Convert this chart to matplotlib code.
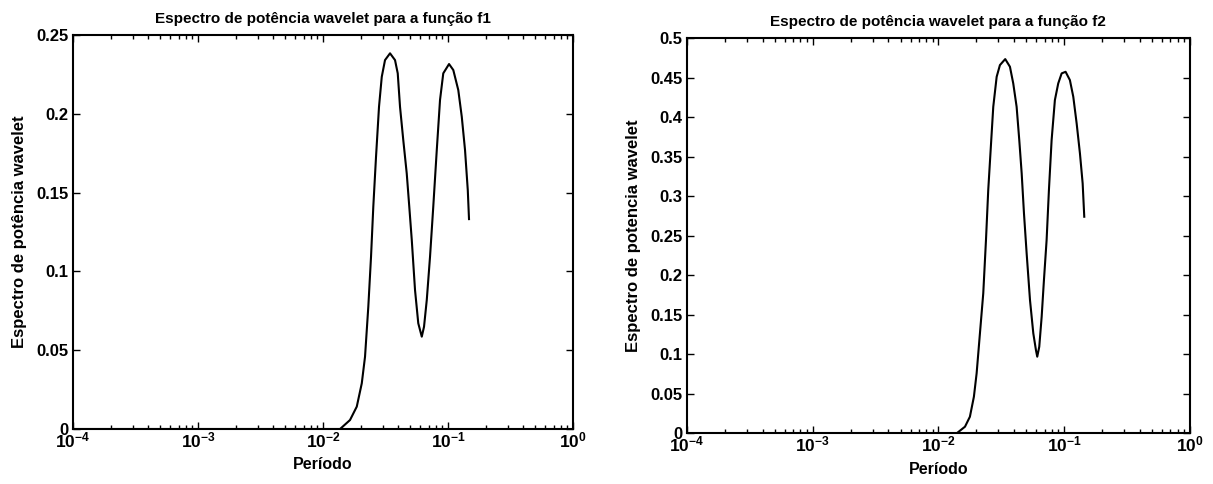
"""
Espectro de potência wavelet das funções f1 e f2 (eixo de período em escala log).
"""

import math
import matplotlib
matplotlib.use("Agg")
import matplotlib.pyplot as plt
from matplotlib.ticker import FixedLocator, FuncFormatter, LogLocator, NullFormatter

# espectro de f1
period_f1 = [1e-4, 0.01368, 0.01644, 0.01862, 0.02042, 0.02168, 0.02303, 0.02421,
             0.02525, 0.02655, 0.02805, 0.02951, 0.03133, 0.03436, 0.03767, 0.03960,
             0.04130, 0.04385, 0.04674, 0.04898, 0.05129, 0.05445, 0.05781, 0.06166,
             0.06427, 0.06761, 0.07178, 0.07621, 0.08128, 0.08630, 0.09162, 0.1019,
             0.1102, 0.1208, 0.1288, 0.1368, 0.1439, 0.1472]
power_f1 = [0.0, 0.0, 0.0057, 0.0142, 0.0290, 0.0459, 0.0776, 0.1093,
            0.1411, 0.1728, 0.2045, 0.2235, 0.2341, 0.2384, 0.2341, 0.2257,
            0.2045, 0.1834, 0.1622, 0.1411, 0.1199, 0.0882, 0.0671, 0.0586,
            0.0649, 0.0819, 0.1093, 0.1411, 0.1770, 0.2088, 0.2257, 0.2316,
            0.2278, 0.2151, 0.1982, 0.1770, 0.1516, 0.1332]

# espectro de f2
period_f2 = [1e-4, 0.01396, 0.01626, 0.01779, 0.01914, 0.02012, 0.02138, 0.02272,
             0.02388, 0.02489, 0.02601, 0.02729, 0.02904, 0.03083, 0.03397, 0.03703,
             0.03934, 0.04185, 0.04393, 0.04591, 0.04788, 0.05028, 0.05346, 0.05680,
             0.05961, 0.06105, 0.06334, 0.06619, 0.06902, 0.07247, 0.07561, 0.07943,
             0.08433, 0.08966, 0.09546, 0.1026, 0.1110, 0.1181, 0.1256, 0.1334,
             0.1402, 0.1444]
power_f2 = [0.0, 0.0, 0.0084, 0.0210, 0.0463, 0.0759, 0.1266, 0.1772,
            0.2447, 0.3080, 0.3586, 0.4134, 0.4514, 0.4662, 0.4738, 0.4641,
            0.4430, 0.4134, 0.3713, 0.3291, 0.2785, 0.2278, 0.1687, 0.1266,
            0.1054, 0.0970, 0.1096, 0.1476, 0.1941, 0.2447, 0.3080, 0.3713,
            0.4219, 0.4430, 0.4557, 0.4577, 0.4472, 0.4261, 0.3924, 0.3544,
            0.3165, 0.2742]

titles = ["Espectro de potência wavelet para a função f1",
          "Espectro de potência wavelet para a função f2"]
ylabels = ["Espectro de potência wavelet", "Espectro de potencia wavelet"]
ymax = [0.25, 0.5]

plt.rcParams["font.family"] = "Liberation Sans"
plt.rcParams["font.weight"] = "bold"
plt.rcParams["mathtext.fontset"] = "custom"
plt.rcParams["mathtext.rm"] = "Liberation Sans:bold"
plt.rcParams["mathtext.bf"] = "Liberation Sans:bold"
plt.rcParams["mathtext.default"] = "bf"

fig = plt.figure(figsize=(12.13, 4.84), dpi=100)
ax1 = fig.add_axes([0.0602, 0.1136, 0.4122, 0.814])
ax2 = fig.add_axes([0.5663, 0.1047, 0.4147, 0.816])

series = [(period_f1, power_f1), (period_f2, power_f2)]


def pow10(v, pos):
    return r"$10^{%d}$" % round(math.log10(v))


for i, ax in enumerate([ax1, ax2]):
    xs, ys = series[i]
    ax.plot(xs, ys, color="black", lw=1.5)
    ax.set_xscale("log")
    ax.set_xlim(1e-4, 1)
    ax.set_ylim(0, ymax[i])
    ax.xaxis.set_major_locator(LogLocator(base=10, numticks=10))
    ax.xaxis.set_minor_locator(LogLocator(base=10, subs=range(2, 10), numticks=20))
    ax.xaxis.set_major_formatter(FuncFormatter(pow10))
    ax.xaxis.set_minor_formatter(NullFormatter())
    n = int(round(ymax[i] / 0.05))
    ax.yaxis.set_major_locator(FixedLocator([k * 0.05 for k in range(n + 1)]))
    ax.yaxis.set_major_formatter(FuncFormatter(lambda v, p: "%g" % round(v, 2)))
    ax.tick_params(which="both", direction="in", top=True, right=True,
                   labelsize=12, width=1)
    ax.tick_params(axis="x", labelsize=12.5, pad=1)
    ax.tick_params(axis="y", pad=3)
    ax.tick_params(which="major", length=5)
    ax.tick_params(which="minor", length=3)
    for s in ax.spines.values():
        s.set_linewidth(1.5)
    ax.set_title(titles[i], fontsize=11, fontweight="bold", pad=9)
    ax.set_xlabel("Período", fontsize=11.5, fontweight="bold", labelpad=5)
    ax.set_ylabel(ylabels[i], fontsize=12, fontweight="bold", labelpad=7)

fig.savefig("out.png", dpi=100)
